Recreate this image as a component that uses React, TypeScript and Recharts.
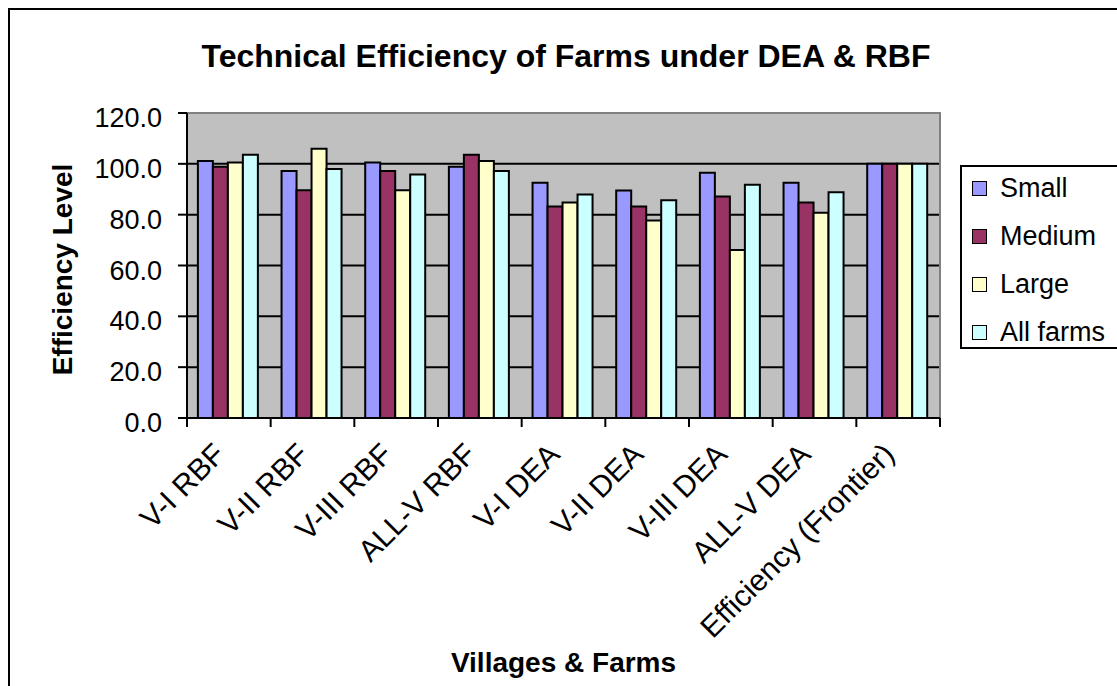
import React from 'react';
import { BarChart, Bar, XAxis, YAxis, CartesianGrid, Legend, Label, ReferenceArea } from 'recharts';

const FONT = '"Liberation Sans", Arial, Helvetica, sans-serif';

const CATEGORIES = ['V-I RBF', 'V-II RBF', 'V-III RBF', 'ALL-V RBF', 'V-I DEA', 'V-II DEA', 'V-III DEA', 'ALL-V DEA', 'Efficiency (Frontier)'];
const SMALL = [101.1, 97.2, 100.5, 98.9, 92.6, 89.5, 96.5, 92.6, 100.0];
const MEDIUM = [98.9, 89.6, 97.2, 103.6, 83.2, 83.2, 87.1, 84.8, 100.0];
const LARGE = [100.5, 105.9, 89.6, 101.1, 84.8, 77.7, 66.1, 80.8, 100.0];
const ALL_FARMS = [103.6, 98.0, 95.8, 97.2, 87.9, 85.7, 91.8, 88.8, 100.0];
const Y_TICKS = [0, 20, 40, 60, 80, 100, 120];
const GRID_VALUES = [20, 40, 60, 80, 100];

const SERIES = [
  { key: 'small', name: 'Small', color: '#9999FF' },
  { key: 'medium', name: 'Medium', color: '#993366' },
  { key: 'large', name: 'Large', color: '#FFFFCC' },
  { key: 'all', name: 'All farms', color: '#CCFFFF' },
];

const data = CATEGORIES.map((c, i) => ({
  name: c,
  small: SMALL[i],
  medium: MEDIUM[i],
  large: LARGE[i],
  all: ALL_FARMS[i],
}));

function XTick(props: any) {
  const { x, y, payload, index, width } = props;
  const off = payload && typeof payload.offset === 'number' && payload.offset > 0 ? payload.offset : width / (2 * CATEGORIES.length);
  const tx = x - 2;
  const ty = y + 38;
  return (
    <g>
      <line x1={x - off} y1={y} x2={x - off} y2={y + 9} stroke="#000" strokeWidth={2} />
      {index === CATEGORIES.length - 1 && (
        <line x1={x + off} y1={y} x2={x + off} y2={y + 9} stroke="#000" strokeWidth={2} />
      )}
      <text x={tx} y={ty} transform={`rotate(-45 ${tx} ${ty})`} textAnchor="end" fontSize={30} fontFamily={FONT} fill="#000">
        {payload.value}
      </text>
    </g>
  );
}

function YTick(props: any) {
  const { x, y, payload } = props;
  return (
    <text x={x} y={y + 14} textAnchor="end" fontSize={27} fontFamily={FONT} fill="#000">
      {Number(payload.value).toFixed(1)}
    </text>
  );
}

function YLabel(props: any) {
  const vb = props.viewBox || { x: 0, y: 105, width: 179, height: 305 };
  const cx = vb.x + 64;
  const cy = vb.y + vb.height / 2 + 4;
  return (
    <text x={cx} y={cy} transform={`rotate(-90 ${cx} ${cy})`} textAnchor="middle" fontSize={28} fontWeight="bold" fontFamily={FONT} fill="#000">
      Efficiency Level
    </text>
  );
}

function XLabel(props: any) {
  const vb = props.viewBox || { x: 179, y: 410, width: 753, height: 268 };
  const cx = vb.x + vb.width / 2;
  const cy = vb.y + 254;
  return (
    <text x={cx} y={cy} textAnchor="middle" fontSize={28} fontWeight="bold" fontFamily={FONT} fill="#000">
      Villages &amp; Farms
    </text>
  );
}

function LegendBox() {
  return (
    <div style={{ fontFamily: FONT, fontSize: 27, color: '#000' }}>
      {SERIES.map((s, i) => (
        <div key={s.key} style={{ display: 'flex', alignItems: 'center', height: 48, marginTop: i === 0 ? -3 : 0 }}>
          <span
            style={{
              display: 'inline-block',
              flex: 'none',
              width: 15,
              height: 15,
              boxSizing: 'border-box',
              border: '1.5px solid #000',
              background: s.color,
              marginLeft: 10,
              marginRight: 13,
            }}
          />
          <span style={{ whiteSpace: 'nowrap' }}>{s.name}</span>
        </div>
      ))}
    </div>
  );
}

export default function App() {
  return (
    <div
      style={{
        position: 'fixed',
        left: 8,
        top: 8,
        width: 1109,
        height: 678,
        overflow: 'hidden',
        fontFamily: FONT,
      }}
    >
      <div
        style={{
          position: 'absolute',
          left: 0,
          top: 0,
          width: 1140,
          height: 720,
          border: '2px solid #000',
          boxSizing: 'border-box',
          background: '#fff',
        }}
      />
      <div
        style={{
          position: 'absolute',
          left: 0,
          top: 32,
          width: 1116,
          textAlign: 'center',
          fontSize: 32,
          lineHeight: '32px',
          fontWeight: 'bold',
          color: '#000',
        }}
      >
        Technical Efficiency of Farms under DEA &amp; RBF
      </div>
      <div style={{ position: 'absolute', left: 0, top: 0, width: 1200, height: 678 }}>
        <BarChart
          width={1200}
          height={678}
          data={data}
          margin={{ top: 105, right: 268, bottom: 0, left: 0 }}
          barCategoryGap="13%"
          barGap={0}
        >
          <CartesianGrid
            vertical={false}
            horizontal={true}
            horizontalValues={GRID_VALUES}
            stroke="#000"
            strokeWidth={2}
            fill="#C0C0C0"
            fillOpacity={1}
          />
          <ReferenceArea y1={0} y2={120} fill="none" stroke="#808080" strokeWidth={2} ifOverflow="visible" />
          <XAxis
            dataKey="name"
            type="category"
            height={268}
            interval={0}
            tickSize={0}
            tickMargin={0}
            tickLine={false}
            axisLine={{ stroke: '#000', strokeWidth: 2 }}
            tick={<XTick />}
          >
            <Label content={<XLabel />} />
          </XAxis>
          <YAxis
            type="number"
            width={179}
            domain={[0, 120]}
            ticks={Y_TICKS}
            interval={0}
            tickSize={9}
            tickMargin={16}
            tickLine={{ stroke: '#000', strokeWidth: 2 }}
            axisLine={{ stroke: '#000', strokeWidth: 2 }}
            tick={<YTick />}
          >
            <Label content={<YLabel />} />
          </YAxis>
          <Legend
            layout="vertical"
            align="center"
            verticalAlign="middle"
            content={<LegendBox />}
            wrapperStyle={{
              position: 'absolute',
              left: 952,
              top: 157,
              width: 200,
              height: 184,
              boxSizing: 'border-box',
              border: '2px solid #000',
              background: '#fff',
            }}
          />
          {SERIES.map((s) => (
            <Bar
              key={s.key}
              dataKey={s.key}
              name={s.name}
              fill={s.color}
              stroke="#000"
              strokeWidth={2}
              isAnimationActive={false}
            />
          ))}
        </BarChart>
      </div>
    </div>
  );
}
